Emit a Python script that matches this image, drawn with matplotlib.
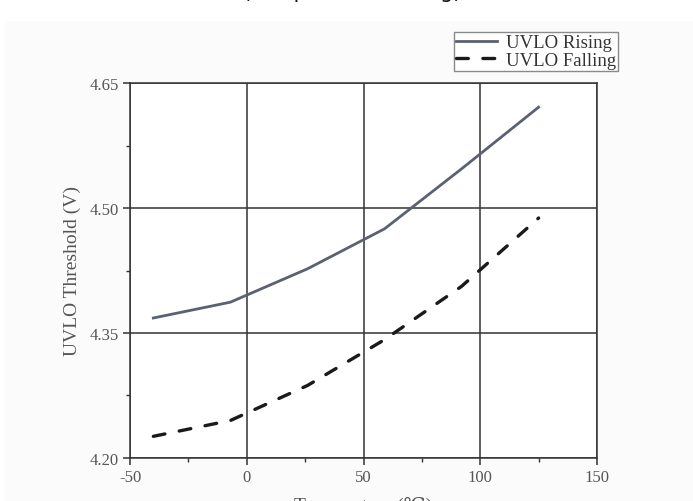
import matplotlib
matplotlib.use("Agg")
import matplotlib.pyplot as plt
from matplotlib.patches import Rectangle

# Temperature sweep points (°C) and UVLO thresholds (V)
temperature = [-40, -7, 26, 59, 92, 125]
uvlo_rising = [4.368, 4.387, 4.427, 4.475, 4.547, 4.621]
uvlo_falling = [4.226, 4.245, 4.287, 4.342, 4.406, 4.488]

x_ticks = [-50, 0, 50, 100, 150]
y_ticks = [4.20, 4.35, 4.50, 4.65]
y_tick_labels = ["4.20", "4.35", "4.50", "4.65"]

plt.rcParams["lines.scale_dashes"] = False
plt.rcParams["axes.unicode_minus"] = False
serif = ["Liberation Serif", "DejaVu Serif"]

W, H = 693, 502
fig = plt.figure(figsize=(W / 100, H / 100), dpi=100)
fig.patch.set_facecolor("white")
fig.add_artist(Rectangle((5 / W, 0), 1 - 5 / W, 1 - 22 / H, transform=fig.transFigure,
                         facecolor="#fcfbfb", edgecolor="none", zorder=-10))

# caption line above the chart (runs off the top edge)
fig.text(352 / W, 1 + 2 / H, "(Temperature Rising)", ha="center", va="baseline",
         fontsize=15, color="#111111", family="DejaVu Sans")

ax = fig.add_axes([130 / W, 1 - 459 / H, (597 - 130) / W, (459 - 84) / H])
ax.set_facecolor("white")

grid_c = "#333333"
ax.plot(temperature, uvlo_rising, color="#5b6172", lw=2.0, label="UVLO Rising",
        solid_joinstyle="round", zorder=3)
ax.plot(temperature, uvlo_falling, color="#1a1a1a", lw=2.4, dashes=(8.5, 10.5),
        label="UVLO Falling", dash_capstyle="round", zorder=3)

ax.set_xlim(-50, 150)
ax.set_ylim(4.20, 4.65)
ax.set_xticks(x_ticks)
ax.set_xticks([-25, 25, 75, 125], minor=True)
ax.set_yticks(y_ticks)
ax.set_yticklabels(y_tick_labels)
ax.set_yticks([4.275, 4.425, 4.575], minor=True)

ax.grid(True, which="major", color=grid_c, lw=1.1)
for s in ax.spines.values():
    s.set_color(grid_c)
    s.set_linewidth(1.1)

ax.tick_params(which="major", direction="out", length=5, width=1.1, color=grid_c,
               labelsize=12, labelcolor="#555555", pad=3)
ax.tick_params(which="minor", direction="out", length=3, width=1.0, color=grid_c)
for lab in ax.get_xticklabels() + ax.get_yticklabels():
    lab.set_family(serif)

ax.set_ylabel("UVLO Threshold (V)", family=serif, fontsize=14, color="#555555", labelpad=6)
ax.set_xlabel("Temperature (\u2103)", family=serif, fontsize=14, color="#555555", labelpad=8)

leg = fig.legend(loc="upper right", bbox_to_anchor=(618 / W, 1 - 33 / H), borderaxespad=0,
                 prop={"family": serif, "size": 13.5}, frameon=True, fancybox=False,
                 framealpha=1, edgecolor="#8a8a8a", borderpad=0.12, labelspacing=0.02,
                 handlelength=2.2, handletextpad=0.45)
leg.get_frame().set_linewidth(1.0)
for t in leg.get_texts():
    t.set_color("#333333")

fig.savefig("out.png", dpi=100)
